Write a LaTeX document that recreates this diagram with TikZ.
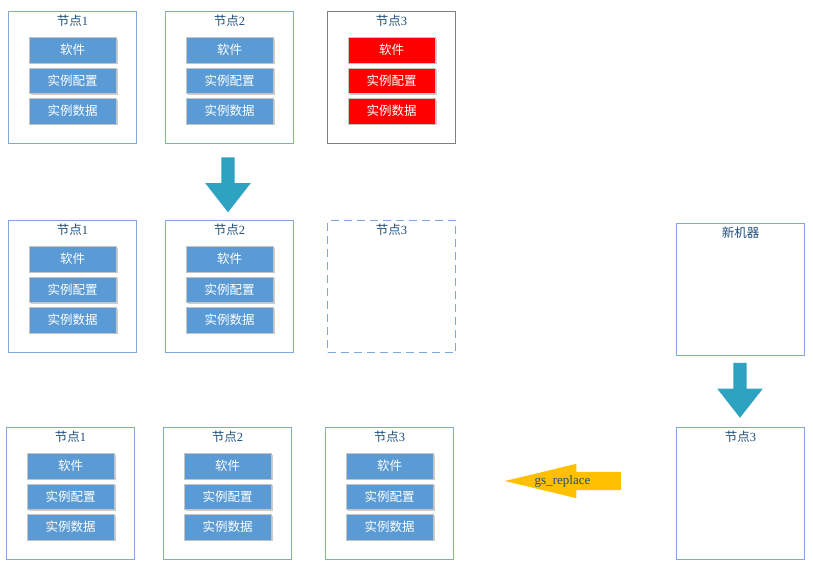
\documentclass[tikz,border=0pt]{standalone}
\usepackage{fontspec}
\setmainfont{Liberation Serif}
\newfontfamily\cjk{Noto Sans CJK SC}
\usepackage{tikz}
\usetikzlibrary{positioning,calc,shapes.arrows,shadows}
\definecolor{boxblue}{RGB}{128,168,220}
\definecolor{titleblue}{RGB}{31,78,121}
\definecolor{partblue}{RGB}{91,155,213}
\definecolor{partred}{RGB}{255,0,0}
\definecolor{partedge}{RGB}{196,196,196}
\definecolor{oldgray}{RGB}{128,128,128}
\definecolor{flowteal}{RGB}{46,163,193}
\definecolor{replaceyellow}{RGB}{255,192,0}
\tikzstyle{machine}=[
	draw=boxblue,
	line width=1pt,
	inner sep=0pt,
	minimum width=128pt,
	minimum height=132pt,
	anchor=north west
]
\tikzstyle{title}=[
	text=titleblue,
	inner sep=0pt,
	font=\fontsize{12.5}{14}\selectfont
]
\tikzstyle{part}=[
	draw=partedge,
	line width=0.8pt,
	text=white,
	inner sep=0pt,
	minimum width=87pt,
	minimum height=25.5pt,
	font=\cjk\fontsize{12.5}{14}\selectfont,
	drop shadow={shadow xshift=1.5pt, shadow yshift=-1.5pt, opacity=0.2, fill=black}
]
\tikzstyle{downarrow}=[
	single arrow,
	shape border rotate=270,
	fill=flowteal,
	inner sep=6.5pt,
	minimum height=55pt,
	minimum width=45pt,
	single arrow head extend=16pt,
	single arrow tip angle=76
]
\tikzstyle{backarrow}=[
	single arrow,
	shape border rotate=180,
	fill=replaceyellow,
	inner sep=9pt,
	minimum height=116pt,
	minimum width=34pt,
	single arrow head extend=8pt,
	single arrow tip angle=27
]
\begin{document}
\begin{tikzpicture}[x=1pt,y=-1pt]
\useasboundingbox (0,0) rectangle (813,568);

\foreach \m/\x/\y/\k/\b/\c in {r1n1/8/11/1/boxblue/partblue, r1n2/165/11/2/boxblue/partblue, r1n3/327/11/3/oldgray/partred, r2n1/8/220/1/boxblue/partblue, r2n2/165/220/2/boxblue/partblue, r3n1/6/427/1/boxblue/partblue, r3n2/163/427/2/boxblue/partblue, r3n3/325/427/3/boxblue/partblue} {
    \node[machine, draw=\b] (\m) at (\x,\y) {};
    \node[title] (\m-t) at ([yshift=-9.5pt]\m.north) {{\cjk 节点}\k};
    \node[part, fill=\c, below=26pt of \m.north] (\m-sw) {软件};
    \node[part, fill=\c, below=4.2pt of \m-sw] (\m-cfg) {实例配置};
    \node[part, fill=\c, below=4.2pt of \m-cfg] (\m-dat) {实例数据};
}

% empty machines
\node[machine, dashed, dash pattern=on 8pt off 5pt] (r2n3) at (327,220) {};
\node[title] (r2n3-t) at ([yshift=-9.5pt]r2n3.north) {{\cjk 节点}3};
\node[machine] (new) at (676,223) {};
\node[title, font=\cjk\fontsize{12.5}{14}\selectfont] (new-t) at ([yshift=-9.5pt]new.north) {新机器};
\node[machine] (r3n4) at (676,427) {};
\node[title] (r3n4-t) at ([yshift=-9.5pt]r3n4.north) {{\cjk 节点}3};

\node[downarrow] (go1) at (228,180.5) {};
\node[downarrow] (go2) at (740,386) {};
\node[backarrow] (rep) at (582,481) {};
\node[title, font=\fontsize{13}{14}\selectfont] (rep-t) at ($(rep.tip)!0.5!(rep.tail)$) {gs\_replace};

\end{tikzpicture}
\end{document}
